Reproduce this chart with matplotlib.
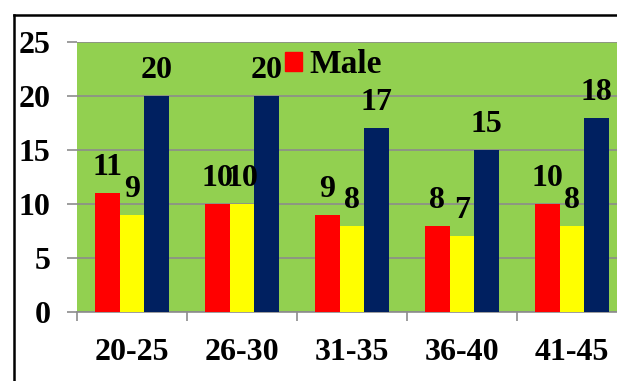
import numpy as np
import matplotlib
matplotlib.use("Agg")
import matplotlib.pyplot as plt
from matplotlib.lines import Line2D
from matplotlib.patches import Patch

plt.rcParams.update({
    "font.family": "Liberation Serif",
    "font.weight": "bold",
    "font.size": 23,
})

# data
categories = ["20-25", "26-30", "31-35", "36-40", "41-45"]
male = [11, 10, 9, 8, 10]
female = [9, 10, 8, 7, 8]
total = [20, 20, 17, 15, 18]

GREEN = "#92D050"
RED = "#FF0000"
YELLOW = "#FFFF00"
NAVY = "#002060"
GRID = "#8C8C8C"

fig = plt.figure(figsize=(6.17, 3.81), dpi=100)
# plot area runs off the right edge, like the cropped original
ax = fig.add_axes([77 / 617, 69 / 381, 550 / 617, 270 / 381])
ax.set_facecolor(GREEN)

x = np.arange(len(categories))
w = 0.223
series = [(male, RED), (female, YELLOW), (total, NAVY)]
for i, (vals, col) in enumerate(series):
    pos = x + (i - 1) * w
    ax.bar(pos, vals, width=w, color=col, zorder=3)
    for px, v in zip(pos, vals):
        ax.annotate(str(v), (px, v), xytext=(0, 13), textcoords="offset points",
                    ha="center", va="baseline", fontsize=23, fontweight="bold",
                    zorder=5)

ax.set_xlim(-0.5, len(categories) - 0.5)
ax.set_ylim(0, 25)
ax.set_yticks(range(0, 26, 5))
ax.yaxis.grid(True, color=GRID, linewidth=1.2, zorder=0)
ax.set_axisbelow(True)

ax.set_xticks(x)
ax.set_xticklabels(categories)
ax.set_xticks(np.arange(-0.5, len(categories)), minor=True)
ax.tick_params(axis="x", which="major", length=0, pad=19)
ax.tick_params(axis="x", which="minor", length=6.5, color=GRID, width=1.2)
ax.tick_params(axis="y", length=7, color=GRID, width=1.2, pad=12)

for s in ["left", "right", "top"]:
    ax.spines[s].set_visible(False)
ax.spines["bottom"].set_color(GRID)
ax.spines["bottom"].set_linewidth(1.2)

leg = ax.legend(handles=[Patch(color=RED, label="Male")], loc="upper left",
                bbox_to_anchor=(0.348, 1.035), frameon=False,
                handlelength=0.52, handleheight=0.52, handletextpad=0.22,
                borderpad=0, prop={"size": 24, "weight": "bold"})

# outer chart frame (only top and left survive the crop)
top = 1 - 14.5 / 381
left = 13.5 / 617
fig.add_artist(Line2D([left, 1.0], [top, top], color="black", linewidth=1.8,
                      transform=fig.transFigure))
fig.add_artist(Line2D([left, left], [0, top], color="black", linewidth=1.8,
                      transform=fig.transFigure))

fig.savefig("out.png", dpi=100)
